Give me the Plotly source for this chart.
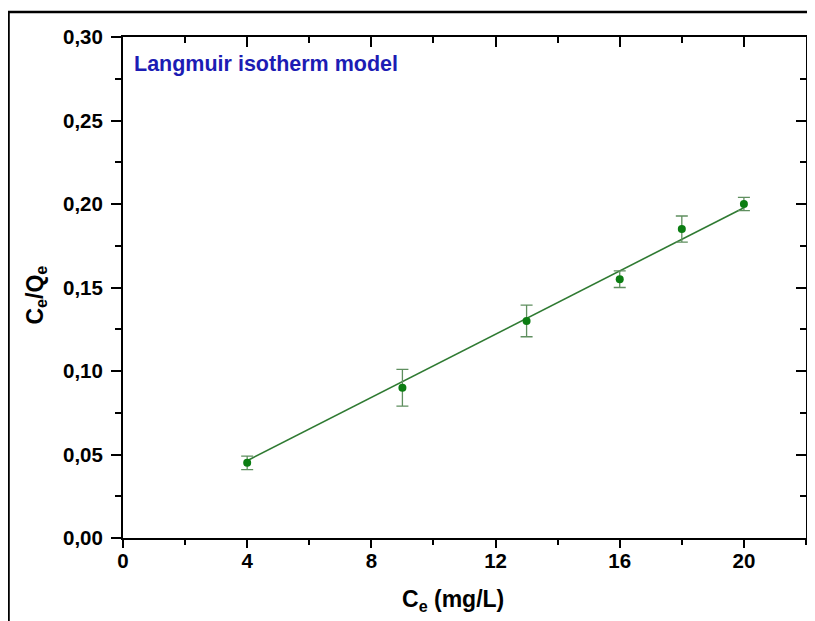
import plotly.graph_objects as go

# Data
ce = [4, 9, 13, 16, 18, 20]
ce_qe = [0.045, 0.090, 0.130, 0.155, 0.185, 0.200]
err = [0.004, 0.011, 0.0095, 0.005, 0.0078, 0.004]
fit_x = [4, 20]
fit_y = [0.0463, 0.1978]

x_range = [0, 22]
y_range = [0, 0.30]
x_ticks = [0, 4, 8, 12, 16, 20]
y_ticks = [0.00, 0.05, 0.10, 0.15, 0.20, 0.25, 0.30]
y_ticklabels = ["0,00", "0,05", "0,10", "0,15", "0,20", "0,25", "0,30"]

FONT = "Liberation Sans, Arial, sans-serif"
GREEN = "#0b7d12"

fig = go.Figure()

fig.add_trace(go.Scatter(
    x=fit_x, y=fit_y, mode="lines",
    line=dict(color="#2f7a32", width=1.6),
    showlegend=False, hoverinfo="skip",
))
fig.add_trace(go.Scatter(
    x=ce, y=ce_qe, mode="markers",
    marker=dict(color=GREEN, size=8),
    error_y=dict(type="data", array=err, visible=True,
                 color="#5f8f5f", thickness=1.3, width=6),
    showlegend=False,
))
# invisible trace for mirror axes (top/right, inward ticks)
fig.add_trace(go.Scatter(
    x=[None], y=[None], xaxis="x2", yaxis="y2",
    showlegend=False, hoverinfo="skip",
))

axis_common = dict(
    showgrid=False, zeroline=False,
    showline=True, linecolor="black", linewidth=2,
    tickcolor="black", tickwidth=2,
)

# The page body has an 8px default margin, so the figure is 8px smaller
fig.update_layout(
    width=807, height=613,
    margin=dict(l=114.5, r=9.3, t=29, b=83, pad=0),
    paper_bgcolor="white", plot_bgcolor="white",
    font=dict(family=FONT, color="black"),
    xaxis=dict(
        **axis_common,
        range=x_range,
        tickmode="array", tickvals=x_ticks,
        ticks="outside", ticklen=8, ticklabelstandoff=-5,
        minor=dict(dtick=2, tick0=0, ticks="outside", ticklen=5,
                   tickcolor="black", tickwidth=2, showgrid=False),
        tickfont=dict(family=FONT, size=20.5, color="black", weight="bold"),
    ),
    yaxis=dict(
        **axis_common,
        range=y_range,
        tickmode="array", tickvals=y_ticks, ticktext=y_ticklabels,
        ticks="outside", ticklen=10, ticklabelstandoff=4,
        minor=dict(dtick=0.025, tick0=0, ticks="outside", ticklen=6,
                   tickcolor="black", tickwidth=2, showgrid=False),
        tickfont=dict(family=FONT, size=20.5, color="black", weight="bold"),
    ),
    xaxis2=dict(
        **axis_common,
        overlaying="x", side="top", anchor="y2",
        range=x_range,
        tickmode="array", tickvals=x_ticks,
        ticks="inside", ticklen=10, showticklabels=False,
        minor=dict(dtick=2, tick0=0, ticks="inside", ticklen=6,
                   tickcolor="black", tickwidth=2, showgrid=False),
    ),
    yaxis2=dict(
        **axis_common,
        overlaying="y", side="right", anchor="x2",
        range=y_range,
        tickmode="array", tickvals=y_ticks,
        ticks="inside", ticklen=10, showticklabels=False,
        minor=dict(dtick=0.025, tick0=0, ticks="inside", ticklen=6,
                   tickcolor="black", tickwidth=2, showgrid=False),
    ),
    annotations=[
        dict(
            text="<b>Langmuir isotherm model</b>",
            xref="paper", yref="paper", x=0.013, y=0.975,
            xanchor="left", yanchor="top", showarrow=False,
            font=dict(family=FONT, size=21.5, color="#1c1cb4"),
        ),
        dict(
            text="<b>C<sub>e</sub> (mg/L)</b>",
            xref="paper", yref="paper", x=0.4837, y=-0.124,
            xanchor="center", yanchor="middle", showarrow=False,
            font=dict(family=FONT, size=23, color="black"),
        ),
        dict(
            text="<b>C<sub>e</sub>/Q<sub>e</sub></b>",
            xref="paper", yref="paper", x=-0.128, y=0.485,
            xanchor="center", yanchor="middle", showarrow=False,
            textangle=-90,
            font=dict(family=FONT, size=23, color="black"),
        ),
    ],
    shapes=[dict(
        type="rect", xref="paper", yref="paper",
        x0=-0.1676, y0=-0.3, x1=1.1, y1=1.0499,
        line=dict(color="black", width=2.5), fillcolor="rgba(0,0,0,0)",
        layer="below",
    )],
)

fig.write_html("out.html")
